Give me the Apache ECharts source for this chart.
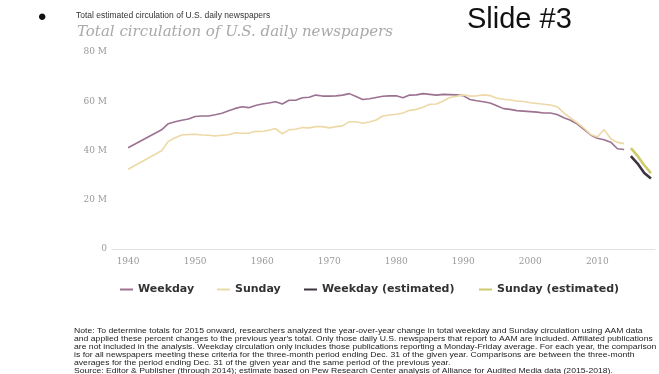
<!DOCTYPE html>
<html>
<head>
<meta charset="utf-8">
<script src="https://cdn.jsdelivr.net/npm/echarts@6/dist/echarts.min.js"></script>
<style>
  html, body { margin: 0; padding: 0; background: #fff; }
  #chart { width: 659px; height: 374px; }
</style>
</head>
<body>
<div id="chart"></div>
<script>
// Total circulation of U.S. daily newspapers, millions of copies
const years = [1940, 1945, 1946, 1947, 1948, 1949, 1950, 1951, 1952, 1953, 1954, 1955, 1956, 1957, 1958, 1959,
  1960, 1961, 1962, 1963, 1964, 1965, 1966, 1967, 1968, 1969, 1970, 1971, 1972, 1973, 1974, 1975, 1976, 1977,
  1978, 1979, 1980, 1981, 1982, 1983, 1984, 1985, 1986, 1987, 1988, 1989, 1990, 1991, 1992, 1993, 1994, 1995,
  1996, 1997, 1998, 1999, 2000, 2001, 2002, 2003, 2004, 2005, 2006, 2007, 2008, 2009, 2010, 2011, 2012, 2013, 2014];
const weekday = [41.1, 48.4, 50.9, 51.7, 52.3, 52.8, 53.8, 54.0, 54.0, 54.5, 55.1, 56.1, 57.1, 57.8, 57.4, 58.3,
  58.9, 59.3, 59.8, 58.9, 60.4, 60.4, 61.4, 61.6, 62.5, 62.1, 62.1, 62.2, 62.5, 63.1, 61.9, 60.7, 61.0, 61.5,
  62.0, 62.2, 62.2, 61.4, 62.5, 62.6, 63.1, 62.8, 62.5, 62.8, 62.7, 62.6, 62.3, 60.7, 60.2, 59.8, 59.3, 58.2,
  57.0, 56.7, 56.2, 56.0, 55.8, 55.6, 55.2, 55.2, 54.6, 53.3, 52.3, 50.7, 48.6, 46.3, 45.0, 44.4, 43.4, 40.7, 40.4];
const sunday = [32.4, 39.9, 43.7, 45.2, 46.3, 46.5, 46.6, 46.3, 46.2, 45.9, 46.2, 46.4, 47.2, 47.0, 47.0, 47.8,
  47.7, 48.2, 48.9, 46.8, 48.4, 48.6, 49.3, 49.2, 49.7, 49.7, 49.2, 49.7, 50.0, 51.7, 51.7, 51.1, 51.6, 52.4,
  54.0, 54.4, 54.7, 55.2, 56.3, 56.7, 57.6, 58.8, 58.9, 60.1, 61.5, 62.0, 62.6, 62.1, 62.2, 62.6, 62.3, 61.2,
  60.8, 60.5, 60.1, 59.9, 59.4, 59.1, 58.8, 58.5, 57.8, 55.3, 53.2, 51.2, 49.1, 46.5, 45.5, 48.5, 44.8, 43.3, 42.8];
const estYears = [2015, 2016, 2017, 2018];
const weekdayEst = [37.7, 34.7, 30.9, 28.6];
const sundayEst = [41.0, 37.8, 34.0, 30.8];
const xTicks = [1940, 1950, 1960, 1970, 1980, 1990, 2000, 2010];

const noteText = [
  "Note: To determine totals for 2015 onward, researchers analyzed the year-over-year change in total weekday and Sunday circulation using AAM data",
  "and applied these percent changes to the previous year's total. Only those daily U.S. newspapers that report to AAM are included. Affiliated publications",
  "are not included in the analysis. Weekday circulation only includes those publications reporting a Monday-Friday average. For each year, the comparison",
  "is for all newspapers meeting these criteria for the three-month period ending Dec. 31 of the given year. Comparisons are between the three-month",
  "averages for the period ending Dec. 31 of the given year and the same period of the previous year.",
  "Source: Editor & Publisher (through 2014); estimate based on Pew Research Center analysis of Alliance for Audited Media data (2015-2018)."
].join("\n");

const pair = (xs, ys) => xs.map((x, i) => [x, ys[i]]);

const colors = {
  weekday: '#9c7290',
  sunday: '#edd9a6',
  weekdayEst: '#3e3340',
  sundayEst: '#cfca6a'
};

const legendBase = {
  top: 279,
  icon: 'rect',
  itemWidth: 13,
  itemHeight: 2,
  itemGap: 6,
  selectedMode: false,
  textStyle: { fontFamily: 'DejaVu Sans', fontWeight: 'bold', fontSize: 11, color: '#333' }
};

const chart = echarts.init(document.getElementById('chart'), null, { renderer: 'canvas' });
chart.setOption({
  animation: false,
  backgroundColor: '#fff',
  grid: { left: 112, right: 4, top: 52, bottom: 125 },
  xAxis: {
    type: 'value',
    min: 1937.6,
    max: 2018.6,
    axisLine: { show: true, lineStyle: { color: '#e2e2e2', width: 1 } },
    axisTick: { show: false },
    splitLine: { show: false },
    axisLabel: {
      customValues: xTicks,
      margin: 8,
      fontFamily: 'DejaVu Serif',
      fontSize: 9,
      color: '#9a9a9a',
      formatter: v => String(v)
    }
  },
  yAxis: {
    type: 'value',
    min: 0,
    max: 80,
    interval: 20,
    axisLine: { show: false },
    axisTick: { show: false },
    splitLine: { show: false },
    axisLabel: {
      margin: 5,
      fontFamily: 'DejaVu Serif',
      fontSize: 9,
      color: '#9a9a9a',
      formatter: v => (v === 0 ? '0' : v + ' M')
    }
  },
  legend: [
    Object.assign({}, legendBase, { left: 115, data: ['Weekday'] }),
    Object.assign({}, legendBase, { left: 212, data: ['Sunday'] }),
    Object.assign({}, legendBase, { left: 299, data: ['Weekday (estimated)'] }),
    Object.assign({}, legendBase, { left: 474, data: ['Sunday (estimated)'] })
  ],
  series: [
    {
      name: 'Weekday', type: 'line', data: pair(years, weekday), showSymbol: false,
      color: colors.weekday, lineStyle: { width: 1.6, color: colors.weekday }
    },
    {
      name: 'Sunday', type: 'line', data: pair(years, sunday), showSymbol: false,
      color: colors.sunday, lineStyle: { width: 1.6, color: colors.sunday }
    },
    {
      name: 'Weekday (estimated)', type: 'line', data: pair(estYears, weekdayEst), showSymbol: false,
      color: colors.weekdayEst, lineStyle: { width: 2.6, color: colors.weekdayEst }
    },
    {
      name: 'Sunday (estimated)', type: 'line', data: pair(estYears, sundayEst), showSymbol: false,
      color: colors.sundayEst, lineStyle: { width: 2.6, color: colors.sundayEst }
    }
  ],
  graphic: [
    { type: 'text', left: 38, top: 6, style: { text: '•', font: '24px "Liberation Sans"', fill: '#111' } },
    { type: 'text', left: 76, top: 11, style: { text: 'Total estimated circulation of U.S. daily newspapers', font: '8.5px "Liberation Sans"', fill: '#333' } },
    { type: 'text', left: 77, top: 25, style: { text: 'Total circulation of U.S. daily newspapers', font: 'italic 15px "DejaVu Serif"', fill: '#a9a9a9' } },
    { type: 'text', left: 467, top: 5, style: { text: 'Slide #3', font: '29px "Liberation Sans"', fill: '#111' } },
    { type: 'text', x: 74, y: 327, scaleX: 1.2, style: { text: noteText, font: '7.2px "Liberation Sans"', fill: '#222', lineHeight: 8 } }
  ]
});
</script>
</body>
</html>
